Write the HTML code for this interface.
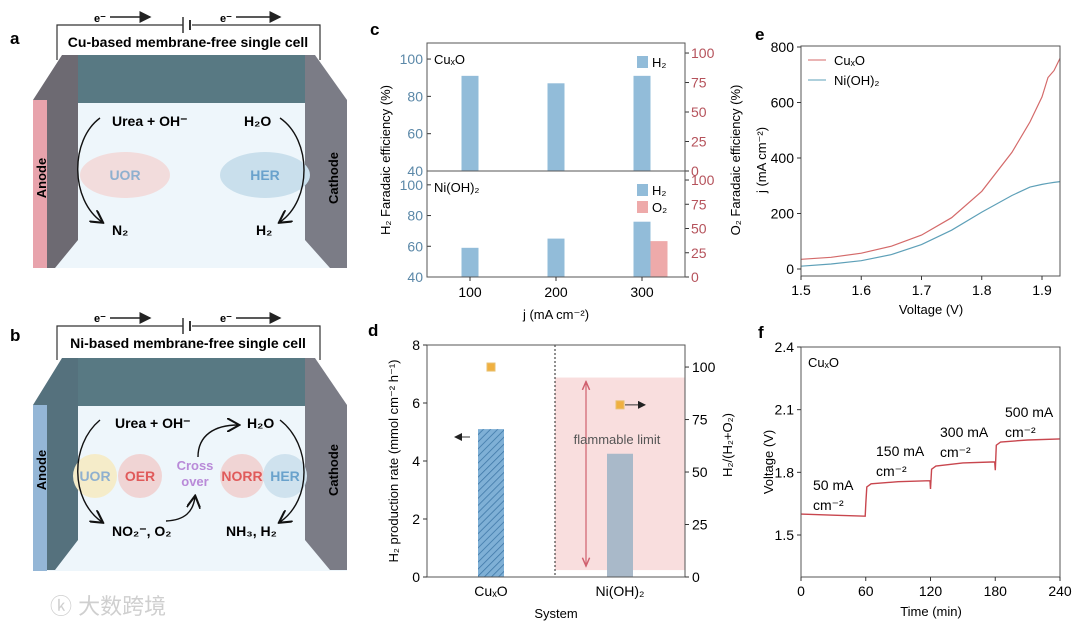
<!DOCTYPE html>
<html><head><meta charset="utf-8"><style>
body{margin:0;background:#fff}
svg{display:block;font-family:"Liberation Sans","Noto Sans CJK SC",sans-serif}
</style></head><body>
<svg id="fig" width="1080" height="627" viewBox="0 0 1080 627">
<defs>
<pattern id="hatch" width="5" height="5" patternUnits="userSpaceOnUse" patternTransform="rotate(45)">
<rect width="5" height="5" fill="#7fb0d6"/><line x1="0" y1="0" x2="0" y2="5" stroke="#3f78a8" stroke-width="1.6"/></pattern>
<marker id="ah" markerWidth="8" markerHeight="8" refX="7" refY="4" orient="auto"><path d="M0,0 L8,4 L0,8 z" fill="#222"/></marker>
<marker id="ahr" markerWidth="8" markerHeight="8" refX="7" refY="4" orient="auto-start-reverse"><path d="M0,1 L7,4 L0,7" fill="none" stroke="#d0606e" stroke-width="1.2"/></marker>
<marker id="ahc" markerWidth="10" markerHeight="10" refX="8" refY="5" orient="auto"><path d="M0,0 L9,5 L0,10" fill="none" stroke="#111" stroke-width="1.5"/></marker>
</defs>

<!-- Panel a -->
<g>
<text x="10" y="44" font-size="17" font-weight="bold">a</text>
<path d="M57,60 V25 H183 M192,25 H320 V60" fill="none" stroke="#333" stroke-width="1.2"/>
<line x1="183" y1="17" x2="183" y2="33" stroke="#333" stroke-width="1.5"/><line x1="190" y1="20" x2="190" y2="30" stroke="#333" stroke-width="2"/>
<text x="94" y="22" font-size="11" font-weight="bold">e⁻</text><line x1="110" y1="17" x2="150" y2="17" stroke="#222" stroke-width="1.5" marker-end="url(#ah)"/>
<text x="220" y="22" font-size="11" font-weight="bold">e⁻</text><line x1="236" y1="17" x2="280" y2="17" stroke="#222" stroke-width="1.5" marker-end="url(#ah)"/>
<text x="188" y="47" font-size="14" font-weight="bold" text-anchor="middle">Cu-based membrane-free single cell</text>
<rect x="33" y="100" width="314" height="168" fill="#eef6fb"/>
<polygon points="70,55 305,55 330,103 50,103" fill="#587983"/>
<polygon points="33,100 62,55 78,55 78,240 55,268 47,268 47,100" fill="#6d6a72"/>
<rect x="33" y="100" width="14" height="168" fill="#e8a3ac"/>
<polygon points="305,55 315,55 347,100 347,268 330,268 305,240" fill="#7b7c86"/>
<text transform="translate(46,178) rotate(-90)" font-size="13" font-weight="bold" text-anchor="middle">Anode</text>
<text transform="translate(338,178) rotate(-90)" font-size="13" font-weight="bold" text-anchor="middle">Cathode</text>
<ellipse cx="125" cy="175" rx="45" ry="23" fill="#f2dcdc"/><text x="125" y="180" font-size="14" font-weight="bold" fill="#8fb0cf" text-anchor="middle">UOR</text>
<ellipse cx="265" cy="175" rx="45" ry="23" fill="#c9dfec"/><text x="265" y="180" font-size="14" font-weight="bold" fill="#6aa2cc" text-anchor="middle">HER</text>
<text x="112" y="126" font-size="14" font-weight="bold">Urea + OH⁻</text>
<text x="244" y="126" font-size="14" font-weight="bold">H₂O</text>
<text x="112" y="235" font-size="14" font-weight="bold">N₂</text>
<text x="256" y="235" font-size="14" font-weight="bold">H₂</text>
<path d="M100,118 C70,140 70,200 102,222" fill="none" stroke="#111" stroke-width="1.4" marker-end="url(#ahc)"/>
<path d="M280,118 C312,140 312,200 280,222" fill="none" stroke="#111" stroke-width="1.4" marker-end="url(#ahc)"/>
</g>

<!-- Panel b -->
<g>
<text x="10" y="341" font-size="17" font-weight="bold">b</text>
<path d="M57,360 V326 H183 M192,326 H320 V360" fill="none" stroke="#333" stroke-width="1.2"/>
<line x1="183" y1="318" x2="183" y2="334" stroke="#333" stroke-width="1.5"/><line x1="190" y1="321" x2="190" y2="331" stroke="#333" stroke-width="2"/>
<text x="94" y="322" font-size="11" font-weight="bold">e⁻</text><line x1="110" y1="318" x2="150" y2="318" stroke="#222" stroke-width="1.5" marker-end="url(#ah)"/>
<text x="220" y="322" font-size="11" font-weight="bold">e⁻</text><line x1="236" y1="318" x2="280" y2="318" stroke="#222" stroke-width="1.5" marker-end="url(#ah)"/>
<text x="188" y="348" font-size="14" font-weight="bold" text-anchor="middle">Ni-based membrane-free single cell</text>
<rect x="33" y="405" width="314" height="166" fill="#eef6fb"/>
<polygon points="70,358 305,358 330,406 50,406" fill="#587983"/>
<polygon points="33,405 62,358 78,358 78,540 55,570 47,570 47,405" fill="#55717d"/>
<rect x="33" y="405" width="14" height="166" fill="#94b6d6"/>
<polygon points="305,358 315,358 347,405 347,570 330,570 305,540" fill="#7b7c86"/>
<text transform="translate(46,470) rotate(-90)" font-size="13" font-weight="bold" text-anchor="middle">Anode</text>
<text transform="translate(338,470) rotate(-90)" font-size="13" font-weight="bold" text-anchor="middle">Cathode</text>
<circle cx="95" cy="476" r="22" fill="#f5ecc9"/><text x="95" y="481" font-size="14" font-weight="bold" fill="#8fb0cf" text-anchor="middle">UOR</text>
<circle cx="140" cy="476" r="22" fill="#f0d4d4"/><text x="140" y="481" font-size="14" font-weight="bold" fill="#e05a5a" text-anchor="middle">OER</text>
<text x="195" y="470" font-size="13" font-weight="bold" fill="#b98ad8" text-anchor="middle">Cross</text>
<text x="195" y="486" font-size="13" font-weight="bold" fill="#b98ad8" text-anchor="middle">over</text>
<circle cx="242" cy="476" r="22" fill="#f0d4d4"/><text x="242" y="481" font-size="14" font-weight="bold" fill="#e05a5a" text-anchor="middle">NORR</text>
<circle cx="285" cy="476" r="22" fill="#cfe2ee"/><text x="285" y="481" font-size="14" font-weight="bold" fill="#6aa2cc" text-anchor="middle">HER</text>
<text x="115" y="428" font-size="14" font-weight="bold">Urea + OH⁻</text>
<text x="247" y="428" font-size="14" font-weight="bold">H₂O</text>
<text x="112" y="536" font-size="14" font-weight="bold">NO₂⁻, O₂</text>
<text x="226" y="536" font-size="14" font-weight="bold">NH₃, H₂</text>
<path d="M100,420 C70,445 70,500 102,522" fill="none" stroke="#111" stroke-width="1.4" marker-end="url(#ahc)"/>
<path d="M280,420 C312,445 312,500 280,522" fill="none" stroke="#111" stroke-width="1.4" marker-end="url(#ahc)"/>
<path d="M166,521 C185,520 193,512 195,497" fill="none" stroke="#111" stroke-width="1.4" marker-end="url(#ahc)"/>
<path d="M198,457 C198,435 215,425 238,425" fill="none" stroke="#111" stroke-width="1.4" marker-end="url(#ahc)"/>
<text x="50" y="614" font-size="22" fill="#cfcfcf">ⓚ 大数跨境</text>
</g>

<g id="pc"></g>
<g id="pd"></g>
<g id="pe"></g>
<g id="pf"></g>
</svg>
<script>
const NS="http://www.w3.org/2000/svg";
function mk(parent,tag,attrs,txt){const e=document.createElementNS(NS,tag);for(const k in attrs)e.setAttribute(k,attrs[k]);if(txt!==undefined)e.textContent=txt;parent.appendChild(e);return e;}
function lin(d0,d1,r0,r1){return v=>r0+(v-d0)/(d1-d0)*(r1-r0);}

// ---- Panel c data ----
const cCategories=["100","200","300"];
const cCuH2=[91,87,91];
const cNiH2=[59,65,76];
const cNiO2=[0,0,37];
const cLeftTicks=[40,60,80,100];
const cRightTicks=[0,25,50,75,100];
// ---- Panel d data ----
const dSystems=["CuₓO","Ni(OH)₂"];
const dRate=[5.1,4.25];
const dRatio=[100,82];
const dFlammable=[3.3,95];
const dLeftTicks=[0,2,4,6,8];
const dRightTicks=[0,25,50,75,100];
// ---- Panel e data ----
const eVolt=[1.5,1.55,1.6,1.65,1.7,1.75,1.8,1.85,1.88,1.9,1.91,1.92,1.93];
const eCu=[35,42,57,82,122,185,280,420,530,620,690,715,760];
const eNi=[10,18,30,52,88,140,205,265,295,305,309,312,315];
const eXTicks=[1.5,1.6,1.7,1.8,1.9];
const eYTicks=[0,200,400,600,800];
// ---- Panel f data ----
const fTime=[0,30,59.5,60,61,65,90,119.5,120,121,125,150,179.5,180,181,185,210,240];
const fVolt=[1.60,1.595,1.59,1.65,1.73,1.745,1.755,1.76,1.72,1.815,1.83,1.845,1.85,1.81,1.93,1.945,1.955,1.96];
const fXTicks=[0,60,120,180,240];
const fYTicks=[1.5,1.8,2.1,2.4];

const blue="#5b88a8", red="#b5525b";

// ===== Panel c =====
(function(){
const g=document.getElementById('pc');
const X0=427,X1=685;
const cx=[470,556,642];
mk(g,'text',{x:370,y:35,'font-size':17,'font-weight':'bold'},'c');
const panels=[{top:43,bot:171,yl:lin(40,108.6,171,43),yr:lin(0,108.5,171,43),h2:cCuH2,o2:null,label:'CuₓO'},
 {top:171,bot:277,yl:lin(40,109,277,171),yr:lin(0,109.3,277,171),h2:cNiH2,o2:cNiO2,label:'Ni(OH)₂'}];
panels.forEach((p,pi)=>{
 p.h2.forEach((v,i)=>{const b=mk(g,'rect',{x:cx[i]-8.5,y:p.yl(v),width:17,height:p.bot-p.yl(v),fill:'#92bcd9'});
  
  });
 if(p.o2)p.o2.forEach((v,i)=>{if(v<=0)return;const b=mk(g,'rect',{x:cx[i]+8.5,y:p.yr(v),width:17,height:p.bot-p.yr(v),fill:'#eeaaaa'});
  
  });
 cLeftTicks.forEach(t=>{if(t===40&&pi===0)return;const y=p.yl(t);mk(g,'line',{x1:X0,y1:y,x2:X0+4,y2:y,stroke:'#333'});
  mk(g,'text',{x:X0-4,y:y+5,'font-size':14,fill:blue,'text-anchor':'end'},t);});
 if(pi===0)mk(g,'text',{x:X0-4,y:176,'font-size':14,fill:blue,'text-anchor':'end'},'40');
 cRightTicks.forEach(t=>{const y=p.yr(t);mk(g,'line',{x1:X1,y1:y,x2:X1+4,y2:y,stroke:'#333'});
  mk(g,'text',{x:X1+6,y:y+5,'font-size':14,fill:red},t);});
 mk(g,'rect',{x:X0,y:p.top,width:X1-X0,height:p.bot-p.top,fill:'none',stroke:'#555','stroke-width':1});
 mk(g,'text',{x:434,y:p.top+21,'font-size':13},p.label);
});
mk(g,'rect',{x:637,y:56,width:11,height:12,fill:'#92bcd9'});mk(g,'text',{x:652,y:67,'font-size':13},'H₂');
mk(g,'rect',{x:637,y:184,width:11,height:12,fill:'#92bcd9'});mk(g,'text',{x:652,y:195,'font-size':13},'H₂');
mk(g,'rect',{x:637,y:201,width:11,height:12,fill:'#eeaaaa'});mk(g,'text',{x:652,y:212,'font-size':13},'O₂');
cCategories.forEach((c,i)=>{mk(g,'line',{x1:cx[i],y1:277,x2:cx[i],y2:281,stroke:'#333'});
 mk(g,'text',{x:cx[i],y:297,'font-size':14,'text-anchor':'middle'},c);});
mk(g,'text',{x:556,y:319,'font-size':13,'text-anchor':'middle'},'j (mA cm⁻²)');
mk(g,'text',{transform:'translate(390,160) rotate(-90)','font-size':13,'text-anchor':'middle'},'H₂ Faradaic efficiency (%)');
mk(g,'text',{transform:'translate(740,160) rotate(-90)','font-size':13,'text-anchor':'middle'},'O₂ Faradaic efficiency (%)');
})();

// ===== Panel d =====
(function(){
const g=document.getElementById('pd');
const X0=427,X1=685,T=345,B=577;
const yl=lin(0,8,577,345), yr=lin(0,110.5,577,345);
const cx=[491,620];
mk(g,'text',{x:368,y:336,'font-size':17,'font-weight':'bold'},'d');
mk(g,'rect',{x:555,y:yr(dFlammable[1]),width:X1-555,height:yr(dFlammable[0])-yr(dFlammable[1]),fill:'#f9dede'});
mk(g,'line',{x1:555,y1:T,x2:555,y2:B,stroke:'#222','stroke-dasharray':'2,2'});
dRate.forEach((v,i)=>{const b=mk(g,'rect',{x:cx[i]-13,y:yl(v),width:26,height:B-yl(v),fill:i===0?'url(#hatch)':'#a9b9c9'});
 
 });
mk(g,'line',{x1:586,y1:yr(dFlammable[1])+4,x2:586,y2:yr(dFlammable[0])-4,stroke:'#d0606e','stroke-width':1.2,'marker-start':'url(#ahr)','marker-end':'url(#ahr)'});
mk(g,'text',{x:617,y:444,'font-size':13,fill:'#555','text-anchor':'middle'},'flammable limit');
dRatio.forEach((v,i)=>{const m=mk(g,'rect',{x:cx[i]-4,y:yr(v)-4,width:8,height:8,fill:'#f0b040',stroke:'#e8c070'});
 
 });
mk(g,'line',{x1:625,y1:yr(dRatio[1]),x2:645,y2:yr(dRatio[1]),stroke:'#333','marker-end':'url(#ah)'});
mk(g,'line',{x1:470,y1:437,x2:455,y2:437,stroke:'#333','marker-end':'url(#ah)'});
mk(g,'rect',{x:X0,y:T,width:X1-X0,height:B-T,fill:'none',stroke:'#555'});
dLeftTicks.forEach(t=>{const y=yl(t);mk(g,'line',{x1:X0-4,y1:y,x2:X0,y2:y,stroke:'#333'});mk(g,'text',{x:X0-7,y:y+5,'font-size':14,'text-anchor':'end'},t);});
dRightTicks.forEach(t=>{const y=yr(t);mk(g,'line',{x1:X1,y1:y,x2:X1+4,y2:y,stroke:'#333'});mk(g,'text',{x:X1+7,y:y+5,'font-size':14},t);});
dSystems.forEach((s,i)=>mk(g,'text',{x:cx[i],y:596,'font-size':14,'text-anchor':'middle'},s));
mk(g,'text',{x:556,y:618,'font-size':13,'text-anchor':'middle'},'System');
mk(g,'text',{transform:'translate(398,461) rotate(-90)','font-size':13,'text-anchor':'middle'},'H₂ production rate (mmol cm⁻² h⁻¹)');
mk(g,'text',{transform:'translate(732,445) rotate(-90)','font-size':13,'text-anchor':'middle'},'H₂/(H₂+O₂)');
})();

// ===== Panel e =====
(function(){
const g=document.getElementById('pe');
const X0=801,X1=1060,T=46,B=276;
const x=lin(1.5,1.9,801,1042), y=lin(0,800,269,47);
mk(g,'text',{x:755,y:40,'font-size':17,'font-weight':'bold'},'e');
const mkPath=(arr,col,name)=>{const p=mk(g,'path',{d:eVolt.map((v,i)=>(i?'L':'M')+x(v).toFixed(1)+','+y(arr[i]).toFixed(1)).join(''),fill:'none',stroke:col,'stroke-width':1.2});
 
 };
mkPath(eCu,'#d46a6a','line-cuxo');mkPath(eNi,'#5ea0b8','line-nioh2');
mk(g,'rect',{x:X0,y:T,width:X1-X0,height:B-T,fill:'none',stroke:'#555'});
eXTicks.forEach(t=>{mk(g,'line',{x1:x(t),y1:B,x2:x(t),y2:B+4,stroke:'#333'});mk(g,'text',{x:x(t),y:B+19,'font-size':14,'text-anchor':'middle'},t.toFixed(1));});
eYTicks.forEach(t=>{mk(g,'line',{x1:X0-4,y1:y(t),x2:X0,y2:y(t),stroke:'#333'});mk(g,'text',{x:X0-7,y:y(t)+5,'font-size':14,'text-anchor':'end'},t);});
mk(g,'line',{x1:808,y1:60,x2:826,y2:60,stroke:'#d46a6a'});mk(g,'text',{x:834,y:65,'font-size':13},'CuₓO');
mk(g,'line',{x1:808,y1:80,x2:826,y2:80,stroke:'#5ea0b8'});mk(g,'text',{x:834,y:85,'font-size':13},'Ni(OH)₂');
mk(g,'text',{x:931,y:314,'font-size':13,'text-anchor':'middle'},'Voltage (V)');
mk(g,'text',{transform:'translate(766,160) rotate(-90)','font-size':13,'text-anchor':'middle'},'j (mA cm⁻²)');
})();

// ===== Panel f =====
(function(){
const g=document.getElementById('pf');
const X0=801,X1=1060,T=347,B=577;
const x=lin(0,240,801,1060), y=lin(1.5,2.4,535,347);
mk(g,'text',{x:758,y:338,'font-size':17,'font-weight':'bold'},'f');
const p=mk(g,'path',{d:fTime.map((t,i)=>(i?'L':'M')+x(t).toFixed(1)+','+y(fVolt[i]).toFixed(1)).join(''),fill:'none',stroke:'#c8464e','stroke-width':1.4});


mk(g,'rect',{x:X0,y:T,width:X1-X0,height:B-T,fill:'none',stroke:'#555'});
fXTicks.forEach(t=>{mk(g,'line',{x1:x(t),y1:B,x2:x(t),y2:B+4,stroke:'#333'});mk(g,'text',{x:x(t),y:B+19,'font-size':14,'text-anchor':'middle'},t);});
fYTicks.forEach(t=>{mk(g,'line',{x1:X0-4,y1:y(t),x2:X0,y2:y(t),stroke:'#333'});mk(g,'text',{x:X0-7,y:y(t)+5,'font-size':14,'text-anchor':'end'},t.toFixed(1));});
mk(g,'text',{x:808,y:367,'font-size':13},'CuₓO');
[['50 mA',813,490],['150 mA',876,456],['300 mA',940,437],['500 mA',1005,417]].forEach(a=>{
 mk(g,'text',{x:a[1],y:a[2],'font-size':14},a[0]);mk(g,'text',{x:a[1],y:a[2]+20,'font-size':14},'cm⁻²');});
mk(g,'text',{x:931,y:616,'font-size':13,'text-anchor':'middle'},'Time (min)');
mk(g,'text',{transform:'translate(773,462) rotate(-90)','font-size':13,'text-anchor':'middle'},'Voltage (V)');
})();
</script>
</body></html>
